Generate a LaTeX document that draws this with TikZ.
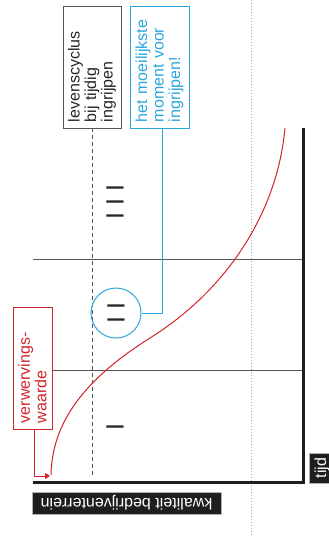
\documentclass[tikz,border=0pt]{standalone}
\usepackage{fontspec}
\setmainfont{Liberation Sans}
\usetikzlibrary{positioning, calc, arrows.meta}
\definecolor{curvered}{HTML}{D2232A}
\definecolor{signalblue}{HTML}{2BA6DE}
\definecolor{axisgray}{HTML}{555555}
\definecolor{labelblack}{HTML}{1E1E1E}
\tikzset{
    labelbox/.style={draw, rotate=90, align=left, text width=110pt,
        inner xsep=6pt, inner ysep=0pt, font=\fontsize{16}{16.5}\selectfont},
    axislabel/.style={fill=labelblack, draw=gray!60, text=white,
        inner sep=0pt, font=\fontsize{16}{16}\selectfont},
    numeral/.style={rotate=90, inner sep=0pt, text=black!85,
        font=\fontsize{25}{25}\selectfont}
}
\begin{document}
\begin{tikzpicture}[x=1pt, y=-1pt]
        \useasboundingbox (0,0) rectangle (329,546);
        % Text boxes
        \node[labelbox, draw=axisgray, text=black!85, minimum height=58pt] (levens) at (92,67) {levenscyclus\\bij tijdig\\ingrijpen};
        \node[labelbox, draw=signalblue, text=signalblue, minimum height=59pt] (moeilijk) at (159.5,67) {het moeilijkste\\moment voor\\ingrijpen!};
        \node[labelbox, draw=curvered, text=curvered, minimum height=39pt] (verw) at (32.5,368) {verwervings-\\waarde};
        % Axis labels
        \node[axislabel, rotate=180, minimum width=189pt, minimum height=22pt] (kwaliteit) at (126.5,503) {kwaliteit bedrijventerrein};
        \node[axislabel, rotate=90, minimum width=30pt, minimum height=26pt] (tijd) at (322,468) {tijd};
        % Guide lines
        \draw[gray!70, line width=0.7pt, dash pattern=on 0.8pt off 2.2pt] (251,0) -- (251,535);
        \draw[axisgray, line width=1pt] (33,259) -- (303,259);
        \draw[axisgray, line width=1pt] (52,370) -- (303,370);
        \coordinate (dashend) at (92,476);
        \draw[axisgray, line width=1pt, dash pattern=on 4pt off 3pt] (levens.west) -- (levens.west |- dashend);
        % Phases
        \node[numeral] (fase1) at (115,427) {I};
        \node[numeral, circle, draw=signalblue, line width=1pt, minimum size=50pt] (fase2) at (116,313) {I I};
        \node[numeral] (fase3) at (115,202) {I I I};
        \draw[signalblue, line width=1pt] (fase2.south) -| ([xshift=2.5pt]moeilijk.west);
        % Curve
        \coordinate (start) at (50,476);
        \draw[curvered, line width=1pt] (51,475) .. controls (52,430) and (75,385) .. (150,338)
            .. controls (225,291) and (277,215) .. (285,128);
        \draw[curvered, line width=0.9pt, -{Triangle[length=5pt, width=6pt]}] ([xshift=1.5pt]verw.west) |- (start);
        % Axes
        \draw[labelblack, line width=3pt] (33,482) -- (303,482) -- (303,128);
    \end{tikzpicture}
\end{document}
